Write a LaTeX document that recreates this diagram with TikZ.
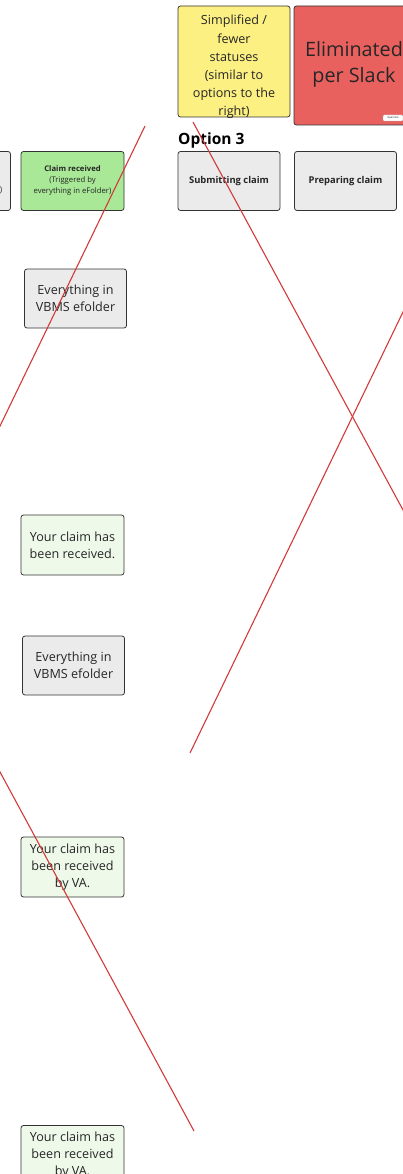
\documentclass[tikz,border=0pt]{standalone}
\usepackage{fontspec}
\setmainfont{Open Sans}
\definecolor{yellowc}{HTML}{FCF083}
\definecolor{redc}{HTML}{E8615F}
\definecolor{grayc}{HTML}{EBEBEB}
\definecolor{greenc}{HTML}{A8E896}
\definecolor{lgreenc}{HTML}{EFF9EA}
\definecolor{linec}{HTML}{D23A3A}
\begin{document}
\begin{tikzpicture}[x=1pt,y=-1pt,
  card/.style={draw=black!80, line width=0.8pt, rounded corners=2.5pt, inner sep=0pt, align=center},
  gcard/.style={card, fill=grayc, minimum width=102pt, minimum height=59pt},
  txt/.style={inner sep=0pt, align=center, text=black!85},
  body/.style={font=\fontsize{12.6}{17}\selectfont, text=black!85},
  small/.style={font=\bfseries\fontsize{9.4}{11}\selectfont, text=black!85},
  strike/.style={draw=linec, line width=1.1pt}]
\useasboundingbox (0,0) rectangle (403,1174);
\clip (0,0) rectangle (403,1174);

% top cards
\node[card, fill=yellowc, minimum width=112pt, minimum height=111pt] (simp) at (234,61.5) {};
\node[txt, font=\fontsize{12.6}{18.2}\selectfont] (simptxt) at (234,67) {Simplified /\\fewer\\statuses\\(similar to\\options to the\\right)};
\node[card, fill=redc, minimum width=122pt, minimum height=119pt] (elim) at (355,65.5) {};
\node[txt, font=\fontsize{19.8}{26}\selectfont] (elimtxt) at (354,64) {Eliminated\\per Slack};
\node[draw=black!30, fill=white, rounded corners=1pt, minimum width=20pt, minimum height=6pt, inner sep=0pt, font=\fontsize{2.5}{3}\selectfont] (tag) at (393,118) {Open link};

\node[anchor=base west, inner sep=0pt, font=\bfseries\fontsize{15.5}{18}\selectfont] (opt) at (178,145) {Option 3};

% row of statuses
\node[gcard, minimum width=103pt] (left) at (-41,181) {};
\node[txt, font=\fontsize{8}{10}\selectfont] (lefttxt) at (1,190) {)};
\node[card, fill=greenc, minimum width=103pt, minimum height=59pt] (recv) at (72.5,181) {};
\node[txt, font=\fontsize{7.7}{11}\selectfont] (recvtxt) at (72.5,181) {\textbf{Claim received}\\(Triggered by\\everything in eFolder)};
\node[gcard, small] (submit) at (229,181) {Submitting claim};
\node[gcard, small] (prep) at (345.5,181) {Preparing claim};

% column of messages
\node[gcard, body] (vbms1) at (75.5,298.5) {Everything in\\VBMS efolder};
\node[card, fill=lgreenc, minimum width=103pt, minimum height=60pt, body] (msg1) at (72.5,545) {Your claim has\\been received.};
\node[gcard, body] (vbms2) at (73.5,665.5) {Everything in\\VBMS efolder};
\node[card, fill=lgreenc, minimum width=103pt, minimum height=60pt, body] (msg2) at (72.5,867) {Your claim has\\been received\\by VA.};
\node[card, fill=lgreenc, minimum width=103pt, minimum height=60pt, body] (msg3) at (72.5,1155.5) {Your claim has\\been received\\by VA.};

% strike lines
\coordinate (a1) at (145,126);
\coordinate (a2) at (-5,436.4);
\coordinate (b1) at (193,122);
\coordinate (b2) at (408,519.2);
\coordinate (c1) at (405.5,306.8);
\coordinate (c2) at (190,753);
\coordinate (d1) at (-5,762.7);
\coordinate (d2) at (194,1131);
\draw[strike] (a1) -- (a2);
\draw[strike] (b1) -- (b2);
\draw[strike] (c1) -- (c2);
\draw[strike] (d1) -- (d2);
\end{tikzpicture}
\end{document}
